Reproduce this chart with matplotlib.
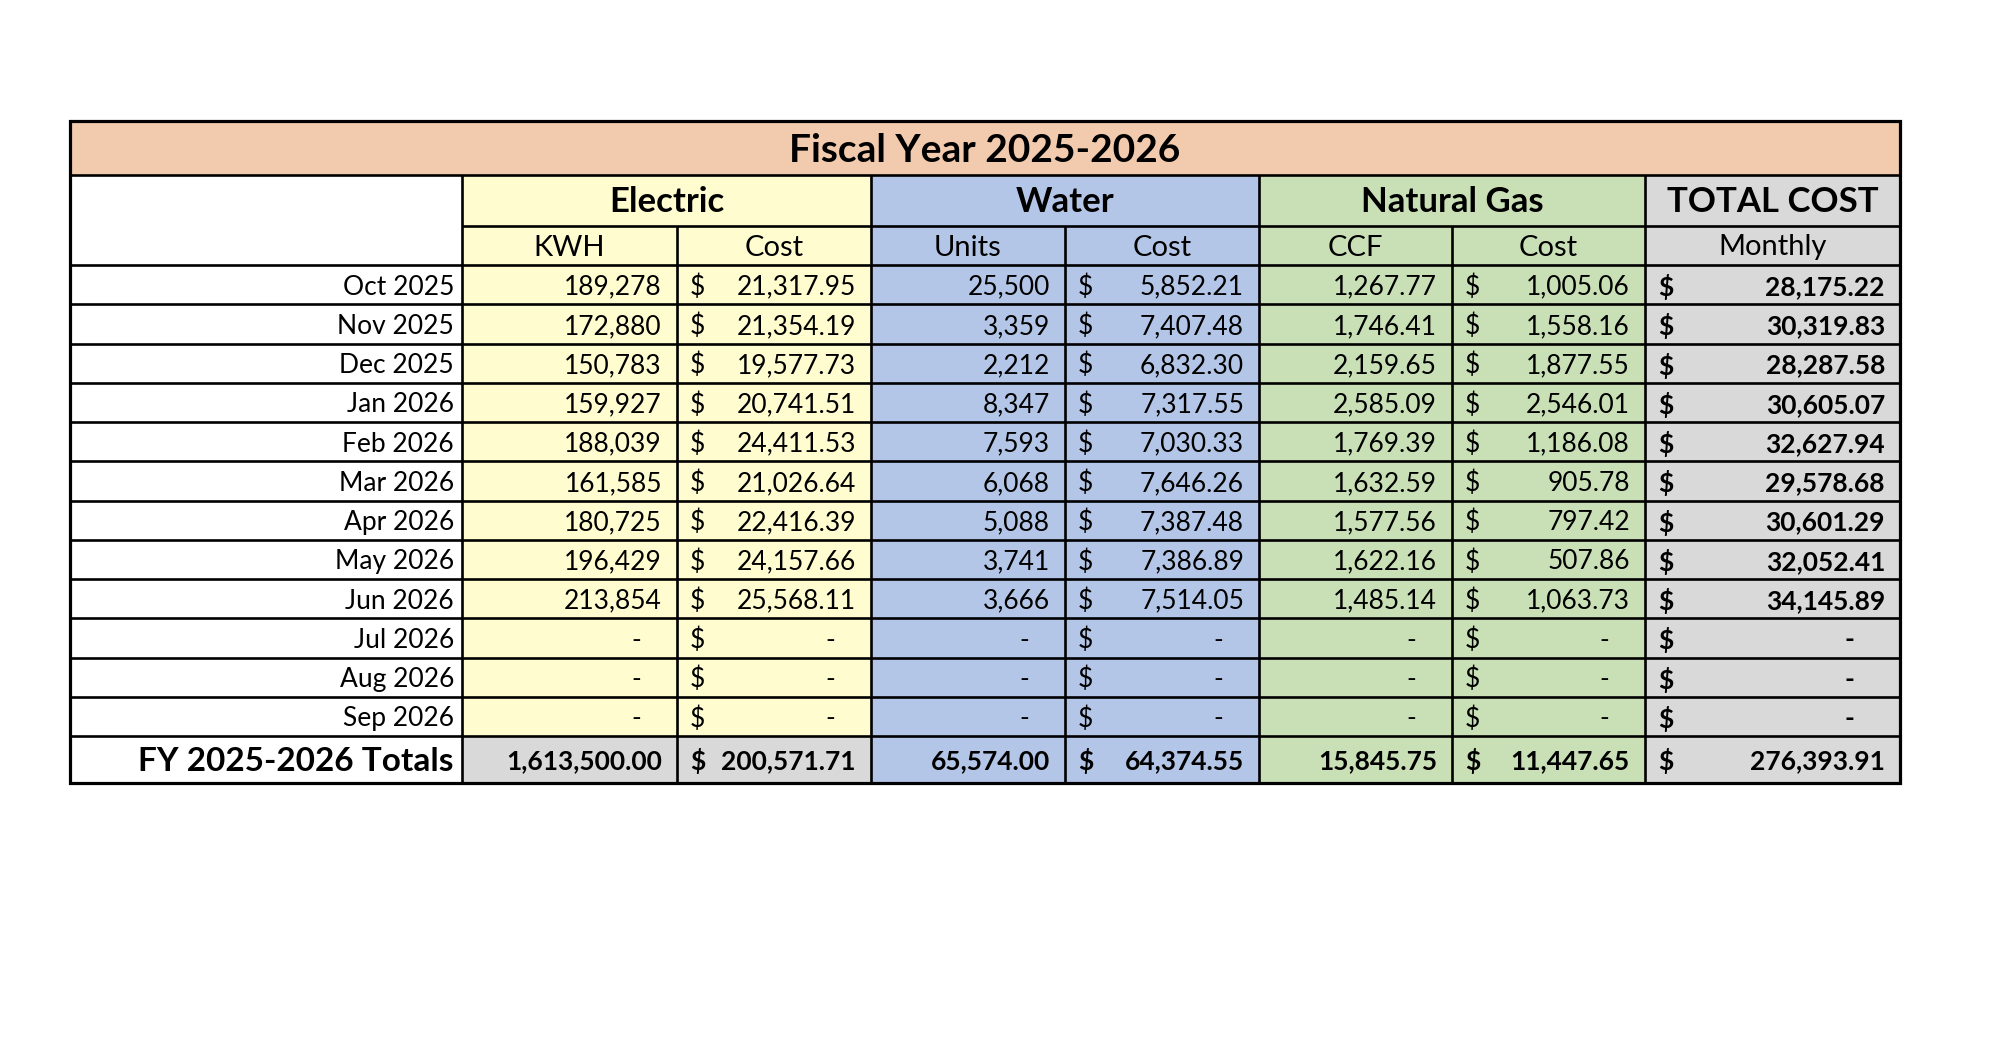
import matplotlib
matplotlib.use("Agg")
import matplotlib.pyplot as plt
from matplotlib.patches import Rectangle

#------------- DATA -------------#
title = "Fiscal Year 2025-2026"
months = ["Oct 2025", "Nov 2025", "Dec 2025", "Jan 2026", "Feb 2026", "Mar 2026",
          "Apr 2026", "May 2026", "Jun 2026", "Jul 2026", "Aug 2026", "Sep 2026"]
groups = ["Electric", "Water", "Natural Gas", "TOTAL COST"]
subheaders = ["KWH", "Cost", "Units", "Cost", "CCF", "Cost", "Monthly"]

electric_kwh = [189278, 172880, 150783, 159927, 188039, 161585, 180725, 196429, 213854, None, None, None]
electric_cost = [21317.95, 21354.19, 19577.73, 20741.51, 24411.53, 21026.64, 22416.39, 24157.66, 25568.11,
                 None, None, None]
water_units = [25500, 3359, 2212, 8347, 7593, 6068, 5088, 3741, 3666, None, None, None]
water_cost = [5852.21, 7407.48, 6832.30, 7317.55, 7030.33, 7646.26, 7387.48, 7386.89, 7514.05,
              None, None, None]
gas_ccf = [1267.77, 1746.41, 2159.65, 2585.09, 1769.39, 1632.59, 1577.56, 1622.16, 1485.14,
           None, None, None]
gas_cost = [1005.06, 1558.16, 1877.55, 2546.01, 1186.08, 905.78, 797.42, 507.86, 1063.73,
            None, None, None]
total_cost = [28175.22, 30319.83, 28287.58, 30605.07, 32627.94, 29578.68, 30601.29, 32052.41, 34145.89,
              None, None, None]

totals_label = "FY 2025-2026 Totals"
totals = [1613500.00, 200571.71, 65574.00, 64374.55, 15845.75, 11447.65, 276393.91]

#------------- STYLE -------------#
plt.rcParams['font.family'] = ['Lato', 'DejaVu Sans']

PEACH = "#F2CBAE"
YELLOW = "#FFFDD0"
BLUE = "#B4C6E7"
GREEN = "#C9E0B6"
GREY = "#D9D9D9"
WHITE = "#FFFFFF"

# pixel layout (figure is 2000 x 1040)
col_x = [70, 462, 677, 871, 1065, 1259, 1452, 1645, 1900]
top, title_bot, group_bot, sub_bot = 121, 175, 226, 265
row_h = 39.25
data_bot = sub_bot + row_h * len(months)
bottom = 783

group_cols = [(1, 3), (3, 5), (5, 7), (7, 8)]
group_colors = [YELLOW, BLUE, GREEN, GREY]
col_colors = [YELLOW, YELLOW, BLUE, BLUE, GREEN, GREEN, GREY]
totals_colors = [GREY, GREY, BLUE, BLUE, GREEN, GREEN, GREY]
# per data column: kind of value
col_kind = ["int", "money", "int", "money", "dec", "money", "money"]
columns = [electric_kwh, electric_cost, water_units, water_cost, gas_ccf, gas_cost, total_cost]

fig = plt.figure(figsize=(20, 10.4), dpi=100)
ax = fig.add_axes([0, 0, 1, 1])
ax.set_xlim(0, 2000)
ax.set_ylim(1040, 0)
ax.axis("off")

LW = 1.9


def cell(x0, x1, y0, y1, color):
    ax.add_patch(Rectangle((x0, y0), x1 - x0, y1 - y0, facecolor=color, edgecolor="none", zorder=1))


def fmt(v, kind):
    if kind == "int":
        return f"{v:,.0f}"
    return f"{v:,.2f}"


# title
cell(col_x[0], col_x[-1], top, title_bot, PEACH)
ax.text((col_x[0] + col_x[-1]) / 2, (top + title_bot) / 2 + 2, title, ha="center", va="center",
        fontsize=28, fontweight="bold", zorder=3)

# header blank
cell(col_x[0], col_x[1], title_bot, sub_bot, WHITE)

# group headers
for (a, b), name, c in zip(group_cols, groups, group_colors):
    cell(col_x[a], col_x[b], title_bot, sub_bot, c)
    ax.text((col_x[a] + col_x[b]) / 2, (title_bot + group_bot) / 2 + 2, name, ha="center", va="center",
            fontsize=25, fontweight="bold", zorder=3)

# sub headers
for i, name in enumerate(subheaders):
    ax.text((col_x[i + 1] + col_x[i + 2]) / 2, (group_bot + sub_bot) / 2 + 2, name, ha="center",
            va="center", fontsize=21, zorder=3)

# data rows
for r, m in enumerate(months):
    y0 = sub_bot + r * row_h
    yc = y0 + row_h / 2 + 2.5
    cell(col_x[0], col_x[1], y0, y0 + row_h, WHITE)
    ax.text(col_x[1] - 8, yc, m, ha="right", va="center", fontsize=19, zorder=3)
    for i, (vals, kind) in enumerate(zip(columns, col_kind)):
        x0, x1 = col_x[i + 1], col_x[i + 2]
        cell(x0, x1, y0, y0 + row_h, col_colors[i])
        bold = "bold" if i == 6 else "normal"
        if kind == "money":
            ax.text(x0 + 13, yc, "$", ha="left", va="center", fontsize=19, fontweight=bold, zorder=3)
        v = vals[r]
        if v is None:
            pad = 46 if i == 6 else 36
            ax.text(x1 - pad, yc, "-", ha="right", va="center", fontsize=19, fontweight=bold, zorder=3)
        else:
            ax.text(x1 - 15, yc, fmt(v, kind), ha="right", va="center", fontsize=19,
                    fontweight=bold, zorder=3)

# totals row
yc = (data_bot + bottom) / 2 + 2
cell(col_x[0], col_x[1], data_bot, bottom, WHITE)
ax.text(col_x[1] - 8, yc, totals_label, ha="right", va="center", fontsize=24, fontweight="bold", zorder=3)
for i, v in enumerate(totals):
    x0, x1 = col_x[i + 1], col_x[i + 2]
    cell(x0, x1, data_bot, bottom, totals_colors[i])
    if col_kind[i] == "money":
        ax.text(x0 + 13, yc, "$", ha="left", va="center", fontsize=19, fontweight="bold", zorder=3)
    ax.text(x1 - 15, yc, f"{v:,.2f}", ha="right", va="center", fontsize=19, fontweight="bold", zorder=3)

# grid lines
ax.hlines([title_bot], col_x[0], col_x[-1], colors="black", lw=LW, zorder=4)
ax.hlines([group_bot], col_x[1], col_x[-1], colors="black", lw=LW, zorder=4)
row_lines = [sub_bot + r * row_h for r in range(len(months) + 1)]
ax.hlines(row_lines, col_x[0], col_x[-1], colors="black", lw=LW, zorder=4)
ax.vlines([col_x[1], col_x[3], col_x[5], col_x[7]], title_bot, bottom, colors="black", lw=LW, zorder=4)
ax.vlines([col_x[2], col_x[4], col_x[6]], group_bot, bottom, colors="black", lw=LW, zorder=4)
ax.add_patch(Rectangle((col_x[0], top), col_x[-1] - col_x[0], bottom - top, facecolor="none",
                       edgecolor="black", lw=2.3, zorder=5))

fig.savefig("out.png", dpi=100, facecolor="white")
